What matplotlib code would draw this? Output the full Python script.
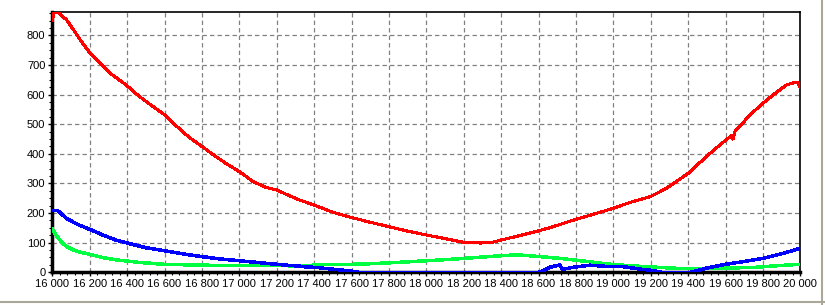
import numpy as np
import matplotlib
matplotlib.use('Agg')
import matplotlib.pyplot as plt
from matplotlib.ticker import MultipleLocator, FuncFormatter
from matplotlib.lines import Line2D

plt.rcParams['font.family'] = ['Liberation Sans', 'DejaVu Sans']

# values
red_x = [16000, 16010, 16030, 16077, 16113, 16149, 16200, 16240, 16310, 16400,
         16467, 16538, 16600, 16662, 16733, 16800, 16874, 16928, 17000, 17075,
         17146, 17200, 17270, 17323, 17400, 17500, 17600, 17700, 17800, 17893,
         18000, 18090, 18200, 18290, 18345, 18400, 18500, 18600, 18663, 18800,
         18893, 19000, 19089, 19200, 19285, 19400, 19498, 19570, 19632, 19640,
         19650, 19732, 19800, 19873, 19927, 19970, 19988, 20000]
red_y = [850, 878, 878, 852, 819, 785, 742, 717, 672, 630,
         593, 560, 532, 495, 455, 425, 391, 368, 340, 306,
         286, 278, 258, 244, 227, 203, 185, 169, 154, 140,
         126, 115, 101, 99, 100, 109, 124, 140, 151, 179,
         196, 216, 236, 256, 284, 334, 391, 430, 462, 450,
         475, 532, 571, 608, 633, 641, 639, 624]

blue_x = [16000, 16030, 16050, 16077, 16113, 16149, 16200, 16270, 16340, 16400,
          16500, 16600, 16700, 16800, 16900, 17000, 17100, 17200, 17270, 17323,
          17343, 17421, 17475, 17575, 17628, 17640, 18600, 18613, 18660, 18714,
          18728, 18786, 18875, 18964, 19053, 19143, 19200, 19246, 19260, 19413,
          19498, 19600, 19695, 19800, 19891, 20000]
blue_y = [208, 208, 196, 182, 169, 158, 145, 126, 109, 99,
          83, 73, 62, 53, 45, 39, 33, 27, 23, 21,
          19, 16, 12, 6, 2, 0, 0, 2, 17, 25,
          10, 17, 24, 20, 19, 11, 7, 2, 0, 0,
          14, 27, 36, 47, 61, 81]

green_x = [16000, 16020, 16050, 16077, 16113, 16149, 16200, 16260, 16340, 16400,
           16470, 16600, 16800, 17000, 17200, 17343, 17430, 17600, 17700, 17800,
           17893, 18000, 18110, 18200, 18308, 18400, 18485, 18590, 18663, 18714,
           18800, 18893, 19000, 19143, 19321, 19400, 19600, 19766, 19891, 20000]
green_y = [146, 126, 101, 87, 75, 68, 61, 51, 42, 38,
           33, 27, 24, 23, 23, 21, 26, 27, 29, 32,
           35, 39, 43, 47, 52, 56, 59, 54, 50, 47,
           41, 34, 26, 20, 14, 12, 14, 17, 23, 27]

yticks = list(range(0, 900, 100))

fig = plt.figure(figsize=(8.25, 3.05), dpi=100)
ax = fig.add_axes([0.0634, 0.1072, 0.9067, 0.8525])

ax.plot(green_x, green_y, color='#00ff40', lw=1.8, antialiased=False, zorder=3)
ax.plot(blue_x, blue_y, color='#0000ff', lw=1.8, antialiased=False, zorder=4)
ax.plot(red_x, red_y, color='#ff0000', lw=1.5, antialiased=False, zorder=5)

ax.set_xlim(16000, 20000)
ax.set_ylim(0, 878)
ax.xaxis.set_major_locator(MultipleLocator(200))
ax.xaxis.set_minor_locator(MultipleLocator(40))
ax.set_yticks(yticks)
ax.yaxis.set_minor_locator(MultipleLocator(25))
ax.xaxis.set_major_formatter(FuncFormatter(lambda v, p: f'{int(v):,}'.replace(',', ' ')))

ax.grid(True, which='major', color='#808080', linestyle=(0, (3.5, 2.5)), lw=0.9)
ax.tick_params(which='major', direction='out', length=3, width=1, labelsize=8.0, pad=2)
ax.tick_params(which='minor', direction='out', length=2, width=0.8)

ax.spines['left'].set_linewidth(2.5)
ax.spines['bottom'].set_linewidth(2.5)
ax.spines['top'].set_linewidth(1.2)
ax.spines['right'].set_linewidth(1.2)
ax.spines['right'].set_linestyle((0, (2, 1)))

# window border on the right and bottom
fig.add_artist(Line2D([0.9964, 0.9964], [0.0, 1.0], transform=fig.transFigure, color='#aca899', lw=1.5))
fig.add_artist(Line2D([0.0, 1.0], [0.0100, 0.0100], transform=fig.transFigure, color='#aca899', lw=1.5))

fig.savefig('out.png', dpi=100, facecolor='white')
